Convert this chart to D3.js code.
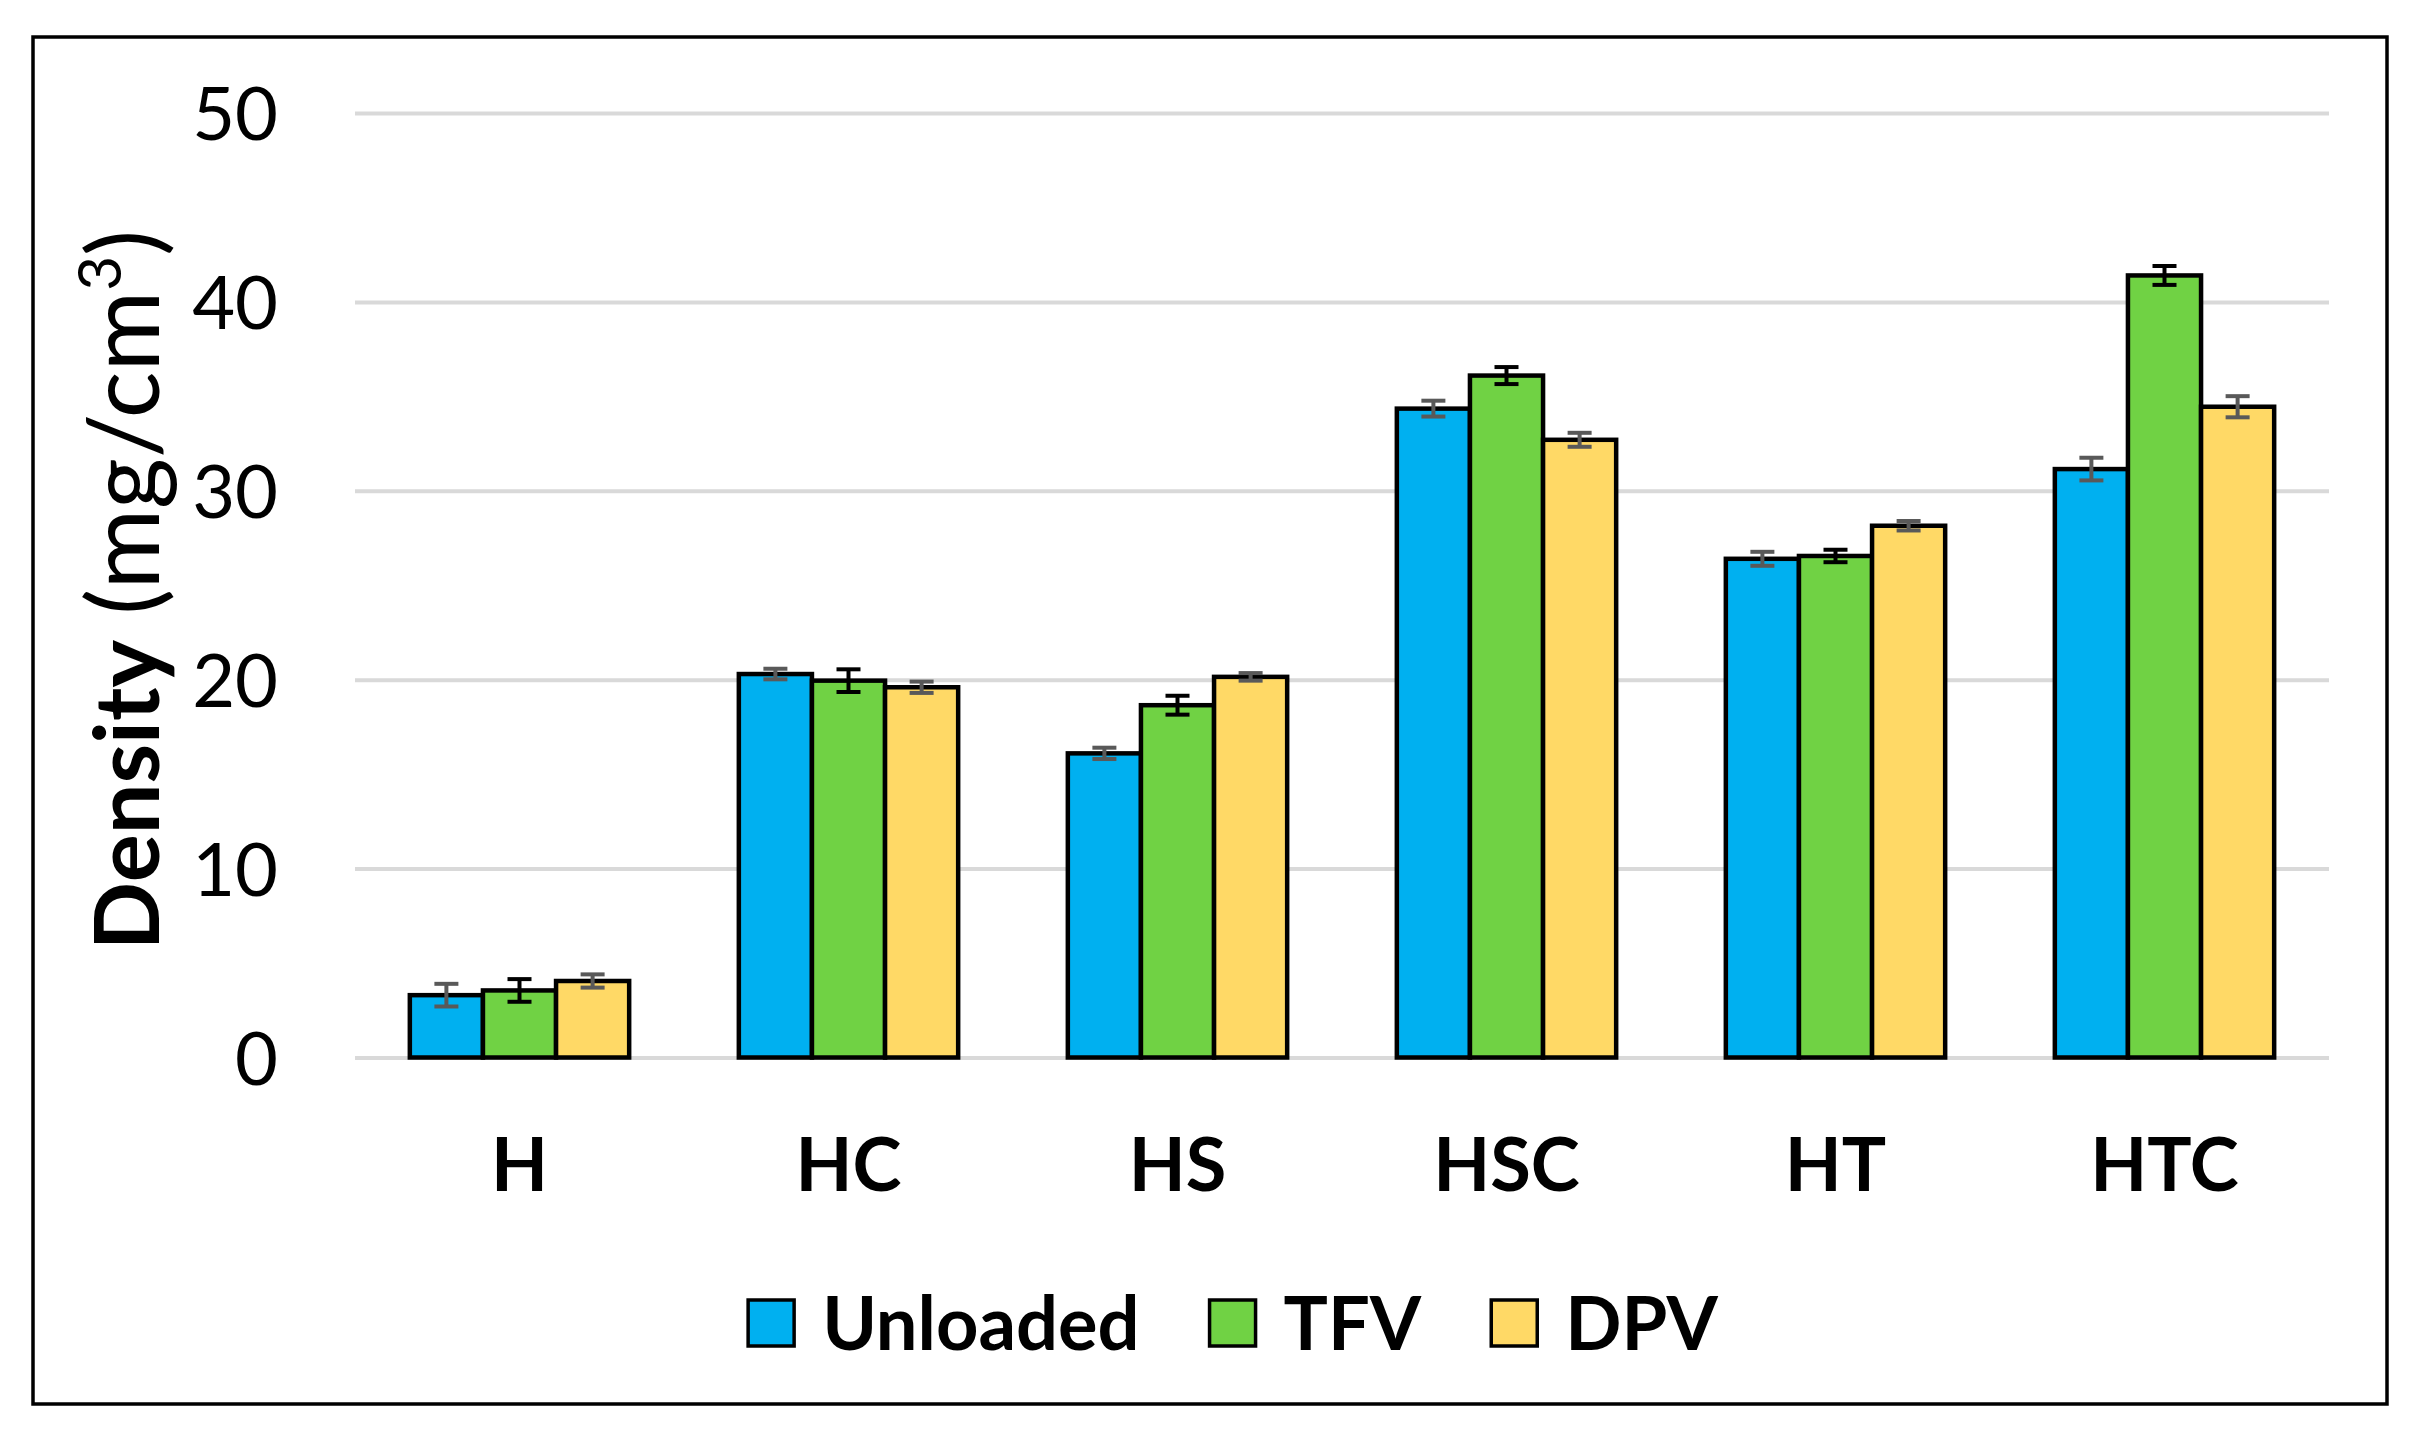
<!DOCTYPE html>
<html lang="en">
<head>
    <meta charset="UTF-8">
    <title>Density chart</title>
    <script src="https://d3js.org/d3.v7.min.js"></script>
    <style>
        body { margin: 0; background: #fff; }
        svg { display: block; font-family: Lato, "Open Sans", sans-serif; }
        .grid line { stroke: #d9d9d9; stroke-width: 4px; }
        .grid text { font-family: Lato, "Open Sans", sans-serif; font-size: 74px; fill: #000; }
        .cat text { font-family: Lato, "Open Sans", sans-serif; font-size: 74px; font-weight: bold; fill: #000; }
    </style>
</head>
<body>
    <svg width="2412" height="1437"></svg>

    <script>
        // data
        const categories = ["H", "HC", "HS", "HSC", "HT", "HTC"];
        const series = ["Unloaded", "TFV", "DPV"];
        const unloaded = [3.3, 20.3, 16.1, 34.35, 26.4, 31.15];
        const tfv = [3.55, 19.95, 18.65, 36.1, 26.55, 41.4];
        const dpv = [4.05, 19.6, 20.15, 32.7, 28.15, 34.45];
        const unloadedErr = [0.6, 0.28, 0.3, 0.42, 0.37, 0.6];
        const tfvErr = [0.6, 0.6, 0.5, 0.45, 0.33, 0.5];
        const dpvErr = [0.35, 0.3, 0.2, 0.37, 0.25, 0.56];
        const yTicks = [0, 10, 20, 30, 40, 50];

        const colors = { Unloaded: "#00B0F0", TFV: "#70D244", DPV: "#FFD966" };
        const errColors = { Unloaded: "#595959", TFV: "#000000", DPV: "#595959" };
        const values = { Unloaded: unloaded, TFV: tfv, DPV: dpv };
        const errs = { Unloaded: unloadedErr, TFV: tfvErr, DPV: dpvErr };

        const svg = d3.select("svg");

        // outer frame
        svg.append("rect")
            .attr("x", 33).attr("y", 37)
            .attr("width", 2354).attr("height", 1367)
            .attr("fill", "none").attr("stroke", "#000").attr("stroke-width", 3.5);

        const plotLeft = 355, plotRight = 2329, plotTop = 113, plotBottom = 1057.5;

        const x0 = d3.scaleBand().domain(categories).range([plotLeft, plotRight]).padding(0);
        const x1 = d3.scaleBand().domain(series).range([0, x0.bandwidth()])
            .paddingInner(0).paddingOuter(0.75);
        const y = d3.scaleLinear().domain([0, 50]).range([plotBottom, plotTop]);

        // gridlines + y tick labels
        const grid = svg.append("g")
            .attr("class", "grid")
            .attr("transform", `translate(${plotLeft},0)`)
            .call(d3.axisLeft(y).tickValues(yTicks).tickSize(-(plotRight - plotLeft)).tickPadding(77));
        grid.select(".domain").remove();
        grid.selectAll("text").attr("dy", "0.36em");

        // category labels
        const cat = svg.append("g")
            .attr("class", "cat")
            .attr("transform", `translate(0,${plotBottom})`)
            .call(d3.axisBottom(x0).tickSize(0));
        cat.select(".domain").remove();
        cat.selectAll("text").attr("y", 1191 - plotBottom).attr("dy", "0");

        // bars
        const rows = [];
        categories.forEach((c, i) => {
            series.forEach(s => rows.push({ cat: c, s: s, v: values[s][i], e: errs[s][i] }));
        });

        svg.append("g")
            .selectAll("rect")
            .data(rows)
            .enter().append("rect")
            .attr("x", d => x0(d.cat) + x1(d.s))
            .attr("y", d => y(d.v))
            .attr("width", x1.bandwidth())
            .attr("height", d => y(0) - y(d.v))
            .attr("fill", d => colors[d.s])
            .attr("stroke", "#000")
            .attr("stroke-width", 4.5);

        // error bars
        const eb = svg.append("g")
            .selectAll("g")
            .data(rows)
            .enter().append("g")
            .attr("stroke", d => errColors[d.s])
            .attr("stroke-width", 4);
        const cx = d => x0(d.cat) + x1(d.s) + x1.bandwidth() / 2;
        eb.append("line")
            .attr("x1", cx).attr("x2", cx)
            .attr("y1", d => y(d.v + d.e)).attr("y2", d => y(d.v - d.e));
        [1, -1].forEach(k => {
            eb.append("line")
                .attr("x1", d => cx(d) - 12).attr("x2", d => cx(d) + 12)
                .attr("y1", d => y(d.v + k * d.e)).attr("y2", d => y(d.v + k * d.e));
        });

        // y axis title
        const title = svg.append("text")
            .attr("transform", "translate(159,590) rotate(-90)")
            .attr("text-anchor", "middle")
            .attr("font-size", 98);
        title.append("tspan").attr("font-weight", "bold").attr("font-size", 90).text("Density");
        title.append("tspan").text(" (mg/cm");
        title.append("tspan").attr("font-size", 60).attr("dy", -38).text("3");
        title.append("tspan").attr("dy", 38).text(")");

        // legend
        const legend = svg.append("g");
        const items = legend.selectAll("g")
            .data(series)
            .enter().append("g");
        items.append("rect")
            .attr("width", 46).attr("height", 46)
            .attr("y", 1300)
            .attr("fill", d => colors[d])
            .attr("stroke", "#000").attr("stroke-width", 3.5);
        items.append("text")
            .attr("y", 1350)
            .attr("font-size", 74)
            .attr("font-weight", "bold")
            .text(d => d);

        let pos = 0;
        const offs = [];
        items.each(function () {
            const w = d3.select(this).select("text").node().getComputedTextLength();
            offs.push(pos);
            pos += 50 + 26 + w + 68;
        });
        const total = pos - 68;
        const start = 1232 - total / 2;
        items.each(function (d, i) {
            const g = d3.select(this);
            g.select("rect").attr("x", start + offs[i] + 2);
            g.select("text").attr("x", start + offs[i] + 50 + 26);
        });
    </script>
</body>
</html>
